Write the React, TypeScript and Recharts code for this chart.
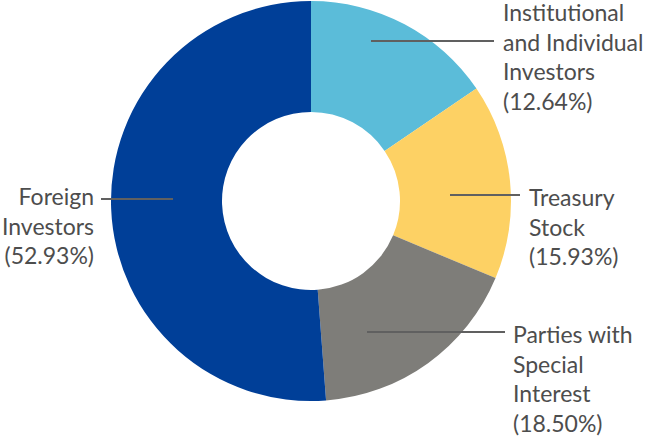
import { PieChart, Pie, Cell } from 'recharts';

const CATEGORIES = ['Institutional and Individual Investors', 'Treasury Stock', 'Parties with Special Interest', 'Foreign Investors'];
// slice sizes as drawn in the picture (the printed percentages are in the labels)
const DRAWN_SHARES = [15.5, 15.8, 17.5, 51.2];
const LABEL_LINES = [
  ['Institutional', 'and Individual', 'Investors', '(12.64%)'],
  ['Treasury', 'Stock', '(15.93%)'],
  ['Parties with', 'Special', 'Interest', '(18.50%)'],
  ['Foreign', 'Investors', '(52.93%)'],
];

const COLORS = ['#5bbcd9', '#fdd164', '#7e7d79', '#003f98'];

// hand-placed callouts: leader line (x1, x2, y) and text anchor
const CALLOUTS = [
  { x1: 371, x2: 494, y: 41, tx: 503, ty: 21, anchor: 'start' },
  { x1: 450, x2: 520, y: 195, tx: 529, ty: 206, anchor: 'start' },
  { x1: 367, x2: 505, y: 332, tx: 513, ty: 343, anchor: 'start' },
  { x1: 101, x2: 173, y: 199, tx: 94, ty: 205, anchor: 'end' },
];

const data = CATEGORIES.map((name, i) => ({ name, value: DRAWN_SHARES[i] }));

const renderLabel = (props: any) => {
  const i = props.index;
  const c = CALLOUTS[i];
  return (
    <g key={`lbl-${i}`}>
      <line x1={c.x1} x2={c.x2} y1={c.y} y2={c.y} stroke="#606060" strokeWidth={2} />
      <text
        x={c.tx}
        y={c.ty}
        textAnchor={c.anchor}
        fill="#4d4d4d"
        style={{ fontFamily: 'Lato', fontSize: 23 }}
      >
        {LABEL_LINES[i].map((t, j) => (
          <tspan key={j} x={c.tx} dy={j === 0 ? 0 : 29.6}>
            {t}
          </tspan>
        ))}
      </text>
    </g>
  );
};

const App = () => {
  return (
    <div style={{ position: 'absolute', left: 0, top: 0, width: 649, height: 437, background: '#fff' }}>
      <PieChart width={649} height={437} margin={{ top: 0, right: 0, bottom: 0, left: 0 }}>
        <Pie
          data={data}
          dataKey="value"
          nameKey="name"
          cx={311}
          cy={201}
          innerRadius={89}
          outerRadius={200}
          startAngle={90}
          endAngle={-270}
          stroke="none"
          label={renderLabel}
          labelLine={false}
          isAnimationActive={false}
        >
          {data.map((d, i) => (
            <Cell key={d.name} fill={COLORS[i]} />
          ))}
        </Pie>
      </PieChart>
    </div>
  );
};

export default App;
